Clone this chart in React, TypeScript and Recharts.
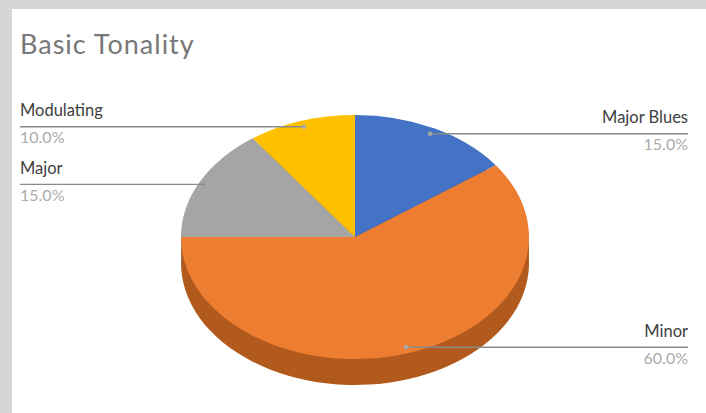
import { PieChart, Pie, Cell } from "recharts";

// Excel-style 3D pie
const slices = ["Major Blues", "Minor", "Major", "Modulating"];
const shares = [15, 60, 15, 10];
const topColors = ["#4472C4", "#ED7D31", "#A5A5A5", "#FFC000"];
const sideColors = ["#2F5597", "#B25A1E", "#7B7B7B", "#BF9000"];

const data = slices.map((name, i) => ({ name, value: shares[i] }));

const W = 706;
const H = 413;
const CX = 355;
const CY = 237;
const R = 174;
const TILT = 122 / 174; // vertical squash of the pie
const DEPTH = 26; // thickness on screen, px
const FONT = "Lato, 'Open Sans', sans-serif";

function renderLabel(props: any) {
  const { cx, cy, midAngle, outerRadius, percent, index } = props;
  const rad = (Math.PI / 180) * midAngle;
  const px = cx + outerRadius * 0.95 * Math.cos(rad);
  const py = cy - outerRadius * TILT * 0.95 * Math.sin(rad);
  const left = Math.cos(rad) < 0;
  const tx = left ? 20 : 688;
  const anchor = left ? "start" : "end";
  return (
    <g key={`lbl-${index}`}>
      <line x1={tx} y1={py} x2={px} y2={py} stroke="#8a8a8a" strokeWidth={1.3} />
      <circle cx={px} cy={py} r={2.3} fill="#a8a8a8" />
      <text x={tx} y={py - 10.5} textAnchor={anchor} fontSize={16.5} fill="#404040" fontFamily={FONT}>
        {slices[index]}
      </text>
      <text x={tx} y={py + 16.5} textAnchor={anchor} fontSize={16} fill="#ababab" fontFamily={FONT}>
        {(percent * 100).toFixed(1)}%
      </text>
    </g>
  );
}

export default function App() {
  const sideOffset = DEPTH / TILT;
  return (
    <div style={{ position: "relative", width: W, height: H, overflow: "hidden", background: "#d6d6d6" }}>
      <style>{"body{margin:0}"}</style>
      <div style={{ position: "absolute", left: 12, top: 9, width: W - 12, height: H - 9, background: "#fff" }} />
      <div
        style={{
          position: "absolute",
          left: 20,
          top: 30,
          fontFamily: FONT,
          fontSize: 27,
          letterSpacing: 1,
          lineHeight: "27px",
          color: "#777777",
          whiteSpace: "nowrap",
        }}
      >
        Basic Tonality
      </div>

      {/* pie body, squashed vertically */}
      <div
        style={{
          position: "absolute",
          left: 0,
          top: 0,
          transform: "scaleY(" + TILT + ")",
          transformOrigin: `${CX}px ${CY}px`,
        }}
      >
        <PieChart width={W} height={470} margin={{ top: 0, right: 0, bottom: 0, left: 0 }}>
          {[sideOffset, sideOffset * 0.5].map((off, k) => (
            <Pie
              key={`side-${k}`}
              data={data}
              dataKey="value"
              cx={CX}
              cy={CY + off}
              outerRadius={R}
              startAngle={90}
              endAngle={-270}
              stroke="none"
              isAnimationActive={false}
            >
              {data.map((_, i) => (
                <Cell key={i} fill={sideColors[i]} />
              ))}
            </Pie>
          ))}
          <Pie
            data={data}
            dataKey="value"
            cx={CX}
            cy={CY}
            outerRadius={R}
            startAngle={90}
            endAngle={-270}
            stroke="none"
            isAnimationActive={false}
          >
            {data.map((_, i) => (
              <Cell key={i} fill={topColors[i]} />
            ))}
          </Pie>
        </PieChart>
      </div>

      {/* labels and leader lines, unsquashed */}
      <div style={{ position: "absolute", left: 0, top: 0 }}>
        <PieChart width={W} height={H} margin={{ top: 0, right: 0, bottom: 0, left: 0 }}>
          <Pie
            data={data}
            dataKey="value"
            cx={CX}
            cy={CY}
            outerRadius={R}
            startAngle={90}
            endAngle={-270}
            fill="none"
            stroke="none"
            label={renderLabel}
            labelLine={false}
            isAnimationActive={false}
          />
        </PieChart>
      </div>
    </div>
  );
}
